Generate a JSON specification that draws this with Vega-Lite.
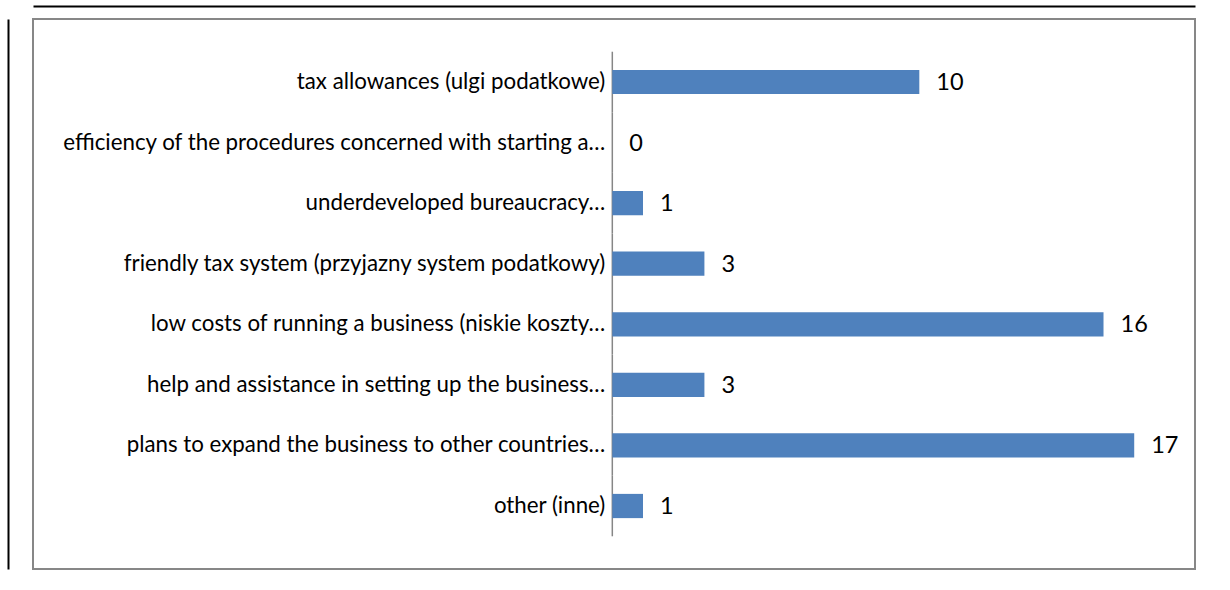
{
  "$schema": "https://vega.github.io/schema/vega-lite/v6.json",
  "width": 1162,
  "height": 550,
  "autosize": {"type": "none"},
  "padding": {"left": 33, "top": 19, "right": 35, "bottom": 21},
  "background": "white",
  "config": {"view": {"stroke": "#878787", "strokeWidth": 2}, "font": "Lato"},
  "data": {"values": [
    {"category": "tax allowances (ulgi podatkowe)", "value": 10},
    {"category": "efficiency of the procedures concerned with starting a…", "value": 0},
    {"category": "underdeveloped bureaucracy…", "value": 1},
    {"category": "friendly tax system (przyjazny system podatkowy)", "value": 3},
    {"category": "low costs of running a business (niskie koszty…", "value": 16},
    {"category": "help and assistance in setting up the business…", "value": 3},
    {"category": "plans to expand the business to other countries…", "value": 17},
    {"category": "other (inne)", "value": 1}
  ]},
  "encoding": {
    "y": {
      "field": "category", "type": "nominal", "sort": null,
      "scale": {"paddingInner": 0.6, "paddingOuter": 0.84},
      "axis": {"orient": "left", "offset": 25, "labels": false, "ticks": false, "title": null, "domainColor": "#000000", "domainWidth": 2}
    }
  },
  "layer": [
    {
      "mark": {"type": "rule", "color": "#868686", "strokeWidth": 1.5},
      "encoding": {
        "x": {"datum": 0, "type": "quantitative", "scale": {"domain": [-18.87, 18.98], "nice": false, "zero": false}, "axis": {"orient": "top", "offset": 13, "labels": false, "ticks": false, "grid": false, "title": null, "domainColor": "#000000", "domainWidth": 2}},
        "y": {"field": "category", "type": "nominal", "sort": null, "bandPosition": -0.75},
        "y2": {"field": "category", "bandPosition": 1.75}
      }
    },
    {
      "mark": {"type": "bar", "color": "#4F81BD"},
      "encoding": {
        "x": {"field": "value", "type": "quantitative", "scale": {"domain": [-18.87, 18.98], "nice": false, "zero": false}, "axis": {"orient": "top", "offset": 13, "labels": false, "ticks": false, "grid": false, "title": null, "domainColor": "#000000", "domainWidth": 2}},
        "x2": {"datum": 0}
      }
    },
    {
      "mark": {"type": "text", "align": "left", "baseline": "middle", "dx": 17, "dy": 1, "fontSize": 23.5, "color": "#000000"},
      "encoding": {
        "x": {"field": "value", "type": "quantitative", "scale": {"domain": [-18.87, 18.98], "nice": false, "zero": false}, "axis": {"orient": "top", "offset": 13, "labels": false, "ticks": false, "grid": false, "title": null, "domainColor": "#000000", "domainWidth": 2}},
        "text": {"field": "value", "type": "quantitative"}
      }
    },
    {
      "mark": {"type": "text", "align": "right", "baseline": "middle", "dx": -7, "fontSize": 22.3, "color": "#000000"},
      "encoding": {
        "x": {"datum": 0, "type": "quantitative", "scale": {"domain": [-18.87, 18.98], "nice": false, "zero": false}, "axis": {"orient": "top", "offset": 13, "labels": false, "ticks": false, "grid": false, "title": null, "domainColor": "#000000", "domainWidth": 2}},
        "text": {"field": "category"}
      }
    }
  ]
}
